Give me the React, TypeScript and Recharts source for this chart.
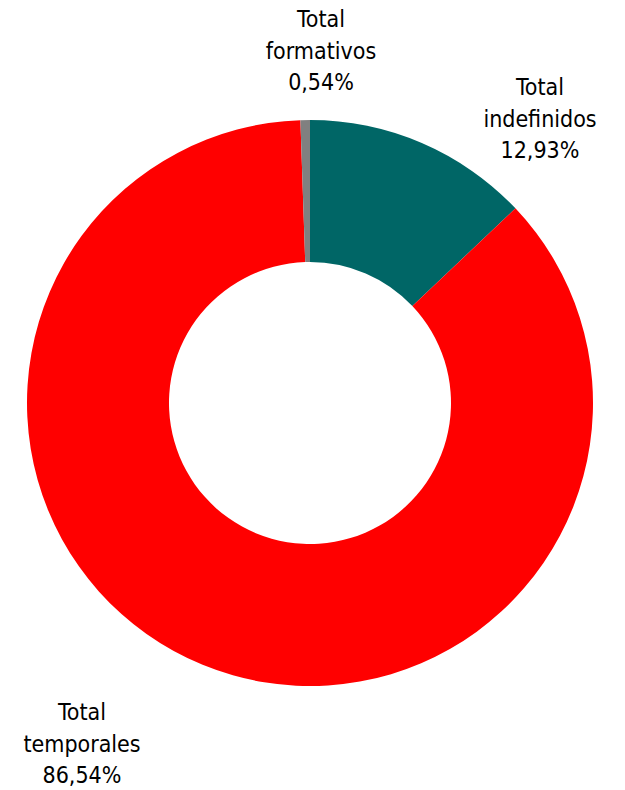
import { PieChart, Pie, Cell } from "recharts";

const categories = ["Total indefinidos", "Total temporales", "Total formativos"];
const shares = [12.93, 86.54, 0.54];
const colors = ["#006666", "#ff0000", "#808080"];

// label anchor offsets from the pie centre (px), Excel-style placement
const labelOffsets = [
    { dx: 230, dy: -308 },
    { dx: -228, dy: 317 },
    { dx: 11, dy: -376 },
];

const data = categories.map((name, i) => ({ name, value: shares[i] }));

const fmt = (v: number) => v.toFixed(2).replace(".", ",") + "%";

interface LabelProps {
    cx?: number;
    cy?: number;
    index?: number;
    name?: string;
    value?: number;
}

const renderLabel = ({ cx = 0, cy = 0, index = 0, name = "", value = 0 }: LabelProps) => {
    const off = labelOffsets[index];
    const x = cx + off.dx;
    const y = cy + off.dy;
    const [first, second] = name.split(" ");
    return (
        <text
            x={x}
            y={y}
            textAnchor="middle"
            fill="#000"
            style={{ fontFamily: "'DejaVu Sans Condensed', 'DejaVu Sans', sans-serif", fontSize: 23, fontStretch: "condensed" }}
        >
            <tspan x={x} dy={0}>{first}</tspan>
            <tspan x={x} dy={31.5}>{second}</tspan>
            <tspan x={x} dy={31.5}>{fmt(value)}</tspan>
        </text>
    );
};

export default function App() {
    return (
        <div style={{ position: "absolute", left: 0, top: 0, width: 625, height: 790, background: "#fff" }}>
            <PieChart width={625} height={790} margin={{ top: 0, right: 0, bottom: 0, left: 0 }}>
                <Pie
                    data={data}
                    dataKey="value"
                    nameKey="name"
                    cx={310}
                    cy={403}
                    innerRadius={141}
                    outerRadius={283}
                    startAngle={90}
                    endAngle={-270}
                    stroke="none"
                    label={renderLabel}
                    labelLine={false}
                    isAnimationActive={false}
                >
                    {data.map((d, i) => (
                        <Cell key={d.name} fill={colors[i]} />
                    ))}
                </Pie>
            </PieChart>
        </div>
    );
}
